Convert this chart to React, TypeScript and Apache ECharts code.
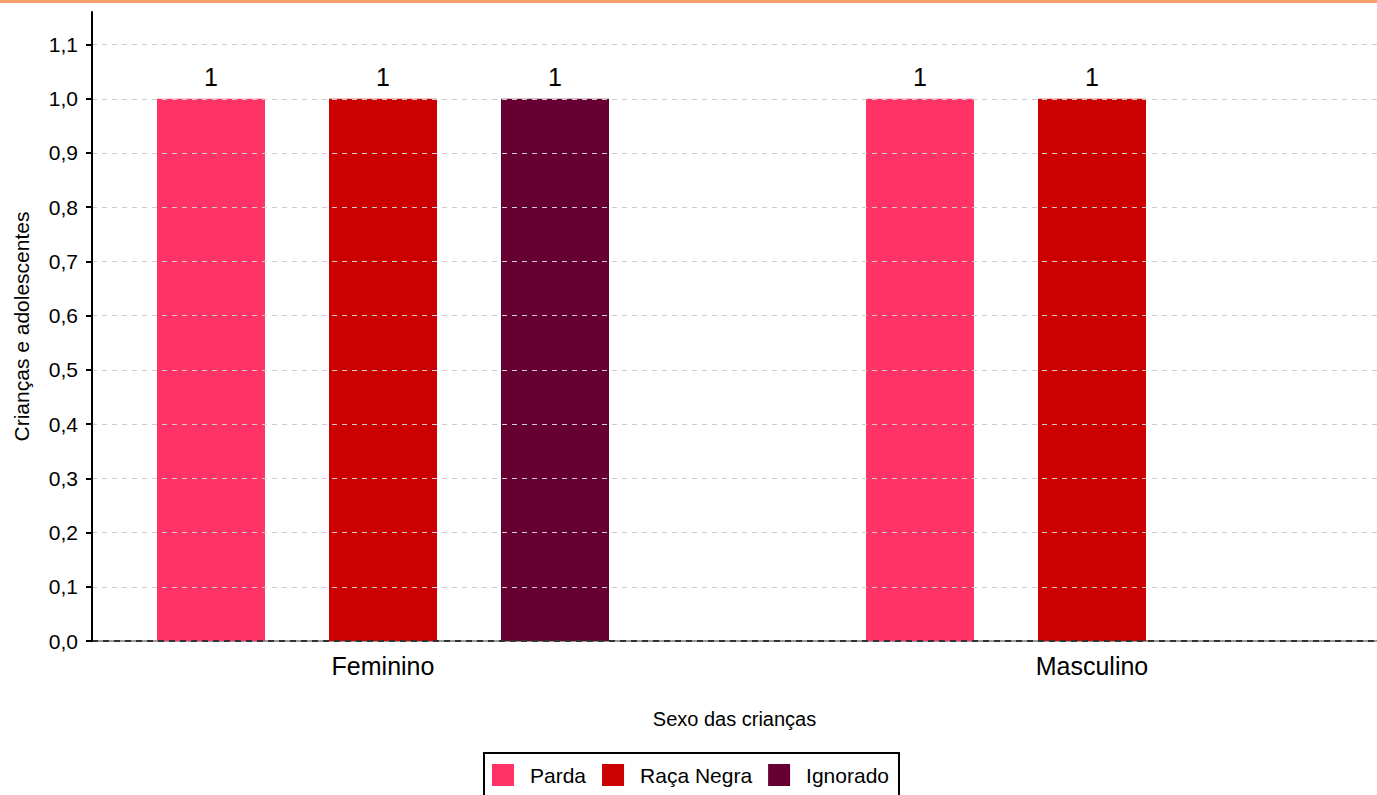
import React, { useEffect, useRef } from "react";
import * as echarts from "echarts";

const categories = ["Feminino", "Masculino"];
const seriesNames = ["Parda", "Raça Negra", "Ignorado"];
const parda = [1, 1];
const racaNegra = [1, 1];
const ignorado = [1, null];
const colors = ["#FF3366", "#CC0000", "#660033"];
const yTicks = [0, 0.1, 0.2, 0.3, 0.4, 0.5, 0.6, 0.7, 0.8, 0.9, 1.0, 1.1];

export default function App() {
  const ref = useRef<HTMLDivElement>(null);
  useEffect(() => {
    const chart = echarts.init(ref.current!, null, { renderer: "svg" });
    const fmt = (v: number) => v.toFixed(1).replace(".", ",");
    const seriesData = [parda, racaNegra, ignorado];
    const option: any = {
      animation: false,
      textStyle: { fontFamily: "Liberation Sans, Arial, sans-serif" },
      graphic: [
        { type: "rect", left: 0, top: 0, shape: { width: 1377, height: 3 }, style: { fill: "#fa9f6c" } },
      ],
      grid: [
        { left: 92, right: 0, top: 12, bottom: 154, outerBoundsMode: "none" },
        { left: 28.5, width: 1418, top: 12, bottom: 154, outerBoundsMode: "none" },
      ],
      xAxis: [
        {
          type: "value",
          gridIndex: 0,
          min: 0,
          max: 1,
          axisLine: { show: true, lineStyle: { color: "#999", width: 2 } },
          axisTick: { show: false },
          axisLabel: { show: false },
          splitLine: { show: false },
          name: "Sexo das crianças",
          nameLocation: "middle",
          nameGap: 68,
          nameTextStyle: { fontSize: 20, color: "#000" },
        },
        {
          type: "category",
          gridIndex: 1,
          data: categories,
          axisLine: { show: false },
          axisTick: { show: false },
          axisLabel: { fontSize: 25, color: "#000", margin: 12 },
        },
      ],
      yAxis: [
        {
          type: "value",
          gridIndex: 0,
          min: 0,
          max: 1.16,
          interval: 0.1,
          axisLine: { show: true, lineStyle: { color: "#000", width: 2 } },
          axisTick: { show: true, length: 6, lineStyle: { color: "#000", width: 2 }, customValues: yTicks },
          axisLabel: { fontSize: 21, color: "#000", margin: 14, formatter: fmt, customValues: yTicks },
          splitLine: { show: true, showMinLine: false, lineStyle: { color: "#ccc", type: [5, 5], width: 1 } },
          name: "Crianças e adolescentes",
          nameLocation: "middle",
          nameGap: 60,
          nameTextStyle: { fontSize: 21, color: "#000" },
          z: 10,
        },
        {
          type: "value",
          gridIndex: 1,
          min: 0,
          max: 1.16,
          show: false,
        },
      ],
      legend: {
        data: seriesNames,
        left: 484,
        top: 753,
        borderColor: "#000",
        borderWidth: 2,
        padding: [11, 10, 11, 8],
        itemWidth: 22,
        itemHeight: 22,
        itemGap: 16,
        icon: "rect",
        textStyle: { fontSize: 21, color: "#000", padding: [0, 0, 0, 11] },
      },
      series: [
        {
          type: "line",
          xAxisIndex: 0,
          yAxisIndex: 0,
          data: [],
          silent: true,
          markLine: {
            silent: true,
            symbol: "none",
            label: { show: false },
            lineStyle: { color: "#333", type: [6, 5], width: 2 },
            data: [{ yAxis: 0 }],
          },
        },
        ...seriesNames.map((name, i) => ({
          name,
          type: "bar",
          xAxisIndex: 1,
          yAxisIndex: 1,
          data: seriesData[i],
          barWidth: 108,
          barGap: "59.26%",
          itemStyle: { color: colors[i] },
          label: { show: true, position: "top", distance: 9, fontSize: 25, color: "#000" },
        })),
      ],
    };
    chart.setOption(option);
    return () => chart.dispose();
  }, []);
  return (
    <div
      ref={ref}
      style={{ position: "absolute", left: 0, top: 0, width: 1377, height: 795 }}
    />
  );
}
